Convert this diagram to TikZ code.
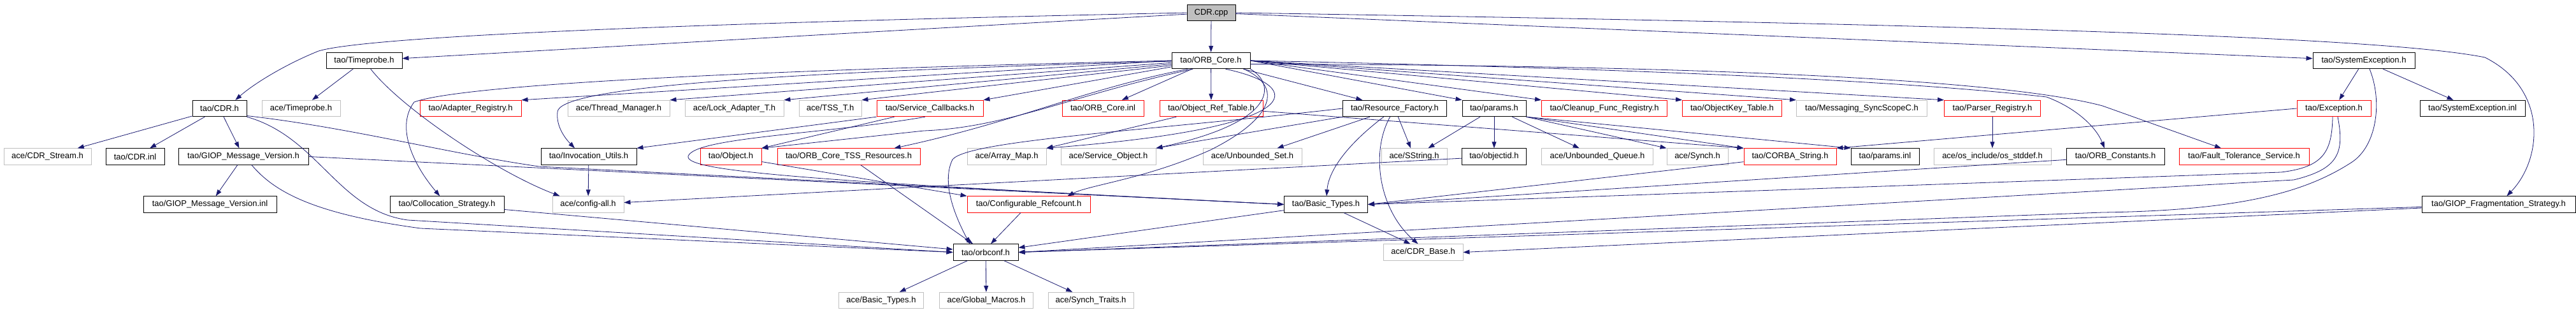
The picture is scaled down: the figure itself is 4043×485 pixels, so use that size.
\documentclass[tikz,border=0pt]{standalone}
\usepackage{fontspec}
\setmainfont{Liberation Sans}
\usetikzlibrary{arrows.meta}
\definecolor{edgeblue}{RGB}{25,25,112}
\definecolor{sysgray}{RGB}{191,191,191}
\tikzset{
  hdr/.style={draw=black, line width=0.9pt, inner sep=0pt, minimum height=25.5pt,
    font=\fontsize{13}{15}\selectfont},
  sysfile/.style={hdr, draw=sysgray},
  cutfile/.style={hdr, draw=red},
  rootfile/.style={hdr, fill=sysgray},
  link/.style={draw=edgeblue, line width=0.8pt, -{Triangle[length=10pt,width=7pt]}},
}
\begin{document}
\begin{tikzpicture}[x=1pt,y=-1pt]
      \useasboundingbox (0,0) rectangle (4043,485);
      \draw
        (1901,20) node[rootfile,minimum width=76pt] (cpp){CDR.cpp}
        (571.5,95) node[hdr,minimum width=119pt] (timeprobe){tao/Timeprobe.h}
        (1900.5,95) node[hdr,minimum width=123pt] (orbcore){tao/ORB\_Core.h}
        (3710,95) node[hdr,minimum width=160pt] (sysexc){tao/SystemException.h}
        (344.5,170) node[hdr,minimum width=85pt] (cdrh){tao/CDR.h}
        (472.5,170) node[sysfile,minimum width=123pt] (acetimeprobe){ace/Timeprobe.h}
        (738.5,170) node[cutfile,minimum width=159pt] (adapterreg){tao/Adapter\_Registry.h}
        (971,170) node[sysfile,minimum width=160pt] (threadmgr){ace/Thread\_Manager.h}
        (1152.5,170) node[sysfile,minimum width=155pt] (lockadapter){ace/Lock\_Adapter\_T.h}
        (1303,170) node[sysfile,minimum width=98pt] (tsst){ace/TSS\_T.h}
        (1459.5,170) node[cutfile,minimum width=167pt] (servicecb){tao/Service\_Callbacks.h}
        (1731,170) node[cutfile,minimum width=128pt] (orbcoreinl){tao/ORB\_Core.inl}
        (1901,170) node[cutfile,minimum width=162pt] (objreftable){tao/Object\_Ref\_Table.h}
        (2189,170) node[hdr,minimum width=163pt] (resfactory){tao/Resource\_Factory.h}
        (2345,170) node[hdr,minimum width=100pt] (params){tao/params.h}
        (2518,170) node[cutfile,minimum width=197pt] (cleanup){tao/Cleanup\_Func\_Registry.h}
        (2718.5,170) node[cutfile,minimum width=156pt] (objkeytable){tao/ObjectKey\_Table.h}
        (2922,170) node[sysfile,minimum width=205pt] (syncscope){tao/Messaging\_SyncScopeC.h}
        (3127,170) node[cutfile,minimum width=151pt] (parserreg){tao/Parser\_Registry.h}
        (3663,170) node[cutfile,minimum width=116pt] (exception){tao/Exception.h}
        (3880.5,170) node[hdr,minimum width=165pt] (sysexcinl){tao/SystemException.inl}
        (74.5,245.5) node[sysfile,minimum width=137pt] (cdrstream){ace/CDR\_Stream.h}
        (212,245.5) node[hdr,minimum width=92pt] (cdrinl){tao/CDR.inl}
        (382,245.5) node[hdr,minimum width=204pt] (giopver){tao/GIOP\_Message\_Version.h}
        (924,245.5) node[hdr,minimum width=150pt] (invocation){tao/Invocation\_Utils.h}
        (1147,245.5) node[cutfile,minimum width=96pt] (object){tao/Object.h}
        (1332,245.5) node[cutfile,minimum width=224pt] (tssres){tao/ORB\_Core\_TSS\_Resources.h}
        (1580,245.5) node[sysfile,minimum width=124pt] (arraymap){ace/Array\_Map.h}
        (1739.5,245.5) node[sysfile,minimum width=149pt] (serviceobj){ace/Service\_Object.h}
        (1965.5,245.5) node[sysfile,minimum width=155pt] (unboundedset){ace/Unbounded\_Set.h}
        (2219.5,245.5) node[sysfile,minimum width=103pt] (sstring){ace/SString.h}
        (2345,245.5) node[hdr,minimum width=101pt] (objectid){tao/objectid.h}
        (2507,245.5) node[sysfile,minimum width=175pt] (unboundedqueue){ace/Unbounded\_Queue.h}
        (2664,245.5) node[sysfile,minimum width=96pt] (synch){ace/Synch.h}
        (2809.5,245.5) node[cutfile,minimum width=145pt] (corbastring){tao/CORBA\_String.h}
        (2958.5,245.5) node[hdr,minimum width=107pt] (paramsinl){tao/params.inl}
        (3127,245.5) node[sysfile,minimum width=184pt] (osstddef){ace/os\_include/os\_stddef.h}
        (3320,245.5) node[hdr,minimum width=154pt] (orbconst){tao/ORB\_Constants.h}
        (3522,245.5) node[cutfile,minimum width=204pt] (faulttol){tao/Fault\_Tolerance\_Service.h}
        (329.5,320.5) node[hdr,minimum width=209pt] (giopverinl){tao/GIOP\_Message\_Version.inl}
        (701.5,320.5) node[hdr,minimum width=179pt] (collocation){tao/Collocation\_Strategy.h}
        (923,320.5) node[sysfile,minimum width=112pt] (configall){ace/config-all.h}
        (1614.5,320.5) node[cutfile,minimum width=193pt] (configref){tao/Configurable\_Refcount.h}
        (2081,320.5) node[hdr,minimum width=131pt] (basictypes){tao/Basic\_Types.h}
        (3921.5,320.5) node[hdr,minimum width=241pt] (giopfrag){tao/GIOP\_Fragmentation\_Strategy.h}
        (1547,395.5) node[hdr,minimum width=102pt] (orbconf){tao/orbconf.h}
        (2233.5,395.5) node[sysfile,minimum width=125pt] (cdrbase){ace/CDR\_Base.h}
        (1383,471) node[sysfile,minimum width=133pt] (acebasictypes){ace/Basic\_Types.h}
        (1548,471) node[sysfile,minimum width=147pt] (globalmacros){ace/Global\_Macros.h}
        (1712,471) node[sysfile,minimum width=134pt] (synchtraits){ace/Synch\_Traits.h};
      \begin{scope}[link]
        % CDR.cpp
        \draw (cpp) to (timeprobe);
        \draw (cpp.west) .. controls (900,40) and (560,62) .. (500,80)
          .. controls (450,100) and (400,130) .. ([xshift=-18pt]cdrh.north east);
        \draw (cpp) to (orbcore);
        \draw (cpp) to (sysexc);
        \draw (cpp.east) .. controls (3200,40) and (3750,60) .. (3900,90)
          .. controls (4000,140) and (3990,250) .. (giopfrag);
        % tao/Timeprobe.h
        \draw (timeprobe) to (acetimeprobe);
        \draw (timeprobe) .. controls (630,170) and (780,270) .. ([xshift=12pt]configall.north west);
        % tao/CDR.h
        \draw (cdrh) to (cdrstream);
        \draw (cdrh) to (cdrinl);
        \draw (cdrh) to (giopver);
        \draw (cdrh.south east) .. controls (500,215) and (530,330) .. (640,345) -- (orbconf.west);
        \draw (cdrh.-15) .. controls (550,200) and (700,240) .. (846,261) -- (basictypes.west);
        % tao/GIOP_Message_Version.h
        \draw (giopver) to (giopverinl);
        \draw ([xshift=13pt]giopver.south) .. controls (430,300) and (490,335) .. (660,358) -- (orbconf.west);
        \draw (giopver.east) to (basictypes.west);
        % tao/ORB_Core.h
        \draw (orbcore.west) .. controls (1100,112) and (720,135) .. (650,160)
          .. controls (620,200) and (650,260) .. (collocation);
        \draw (orbcore.west) to (adapterreg.north east);
        \draw (orbcore.183) to (threadmgr.north east);
        \draw (orbcore.185) to (lockadapter.north east);
        \draw (orbcore.187) to (tsst.north east);
        \draw (orbcore.189) to (servicecb.north east);
        \draw (orbcore.181) .. controls (1150,115) and (880,140) .. (875,175)
          .. controls (872,200) and (890,220) .. ([xshift=-22pt]invocation.north);
        \draw (orbcore) to (orbcoreinl);
        \draw (orbcore) to (objreftable);
        \draw (orbcore) to (resfactory);
        \draw (orbcore.east) to (params.north west);
        \draw (orbcore.east) to (cleanup.north west);
        \draw (orbcore.east) to (objkeytable.north west);
        \draw (orbcore.east) to (syncscope.north west);
        \draw (orbcore.east) to (parserreg.north west);
        \draw (orbcore.east) .. controls (2600,108) and (3000,128) .. (3212,152)
          .. controls (3260,170) and (3290,200) .. ([xshift=-17pt]orbconst.north);
        \draw (orbcore.-5) .. controls (2700,102) and (3150,126) .. (3300,166) -- ([xshift=-36pt]faulttol.north);
        \draw (orbcore.200) .. controls (1700,140) and (1600,190) .. ([xshift=-41pt]tssres.north east);
        \draw (orbcore.205) .. controls (1680,150) and (1580,200) .. (1450,205) -- (object.north east);
        \draw (orbcore.south east) .. controls (2000,130) and (2010,190) .. (serviceobj.north east);
        \draw (orbcore.-30) .. controls (2050,135) and (2060,200) .. (arraymap.north east);
        \draw ([xshift=-10pt]orbcore.south east) .. controls (2020,140) and (1990,190) .. (1900,235)
          .. controls (1800,280) and (1710,290) .. ([xshift=-36pt]configref.north east);
        % tao/Service_Callbacks.h
        \draw (servicecb.south west) to (invocation.north east);
        \draw (servicecb) to (object.north east);
        \draw (servicecb.-120) .. controls (1300,210) and (1090,215) .. (1080,245)
          .. controls (1075,270) and (1300,285) .. (basictypes.west);
        % tao/Object.h
        \draw (object) to (configref.north west);
        % tao/Object_Ref_Table.h
        \draw (objreftable) to (arraymap.north east);
        \draw (objreftable.-3) to (corbastring.north west);
        % tao/Resource_Factory.h
        \draw (resfactory) to (unboundedset);
        \draw (resfactory) to (sstring);
        \draw (resfactory.south west) to (serviceobj.north east);
        \draw (resfactory) .. controls (2110,230) and (2085,270) .. (basictypes);
        \draw (resfactory) .. controls (2150,240) and (2165,330) .. ([xshift=-8pt]cdrbase.north);
        \draw (resfactory.west) .. controls (1800,205) and (1520,220) .. (1495,250)
          .. controls (1475,290) and (1505,350) .. ([xshift=-25pt]orbconf.north);
        % tao/params.h
        \draw (params) to (sstring);
        \draw (params) to (objectid);
        \draw (params) to (unboundedqueue);
        \draw (params.south east) to (synch.north west);
        \draw (params.south east) to (corbastring.north west);
        \draw (params.south east) to (paramsinl.north west);
        % lower levels
        \draw (objectid) to (configall);
        \draw (invocation) to (configall);
        \draw (collocation) to (orbconf);
        \draw (tssres) to ([xshift=-20pt]orbconf.north);
        \draw (configref) to ([xshift=8pt]orbconf.north);
        \draw (basictypes) to (orbconf);
        \draw (basictypes) to ([xshift=-20pt]cdrbase.north);
        \draw (orbconf) to (acebasictypes);
        \draw (orbconf) to (globalmacros);
        \draw (orbconf) to (synchtraits);
        % right side
        \draw (parserreg) to (osstddef);
        \draw (sysexc) to (exception);
        \draw (sysexc) to (sysexcinl);
        \draw ([xshift=9pt]sysexc.south) .. controls (3740,160) and (3730,230) .. (3690,255)
          .. controls (3620,300) and (3520,330) .. (3300,333) -- (orbconf.east);
        \draw (exception.west) to (corbastring.north east);
        \draw ([xshift=-2pt]exception.south) .. controls (3660,240) and (3645,262) .. (3580,270) -- (basictypes.east);
        \draw ([xshift=6pt]exception.south) .. controls (3680,240) and (3670,265) .. (3600,282) -- (orbconf.east);
        \draw (corbastring) to (basictypes.east);
        \draw (orbconst) to (basictypes.east);
        \draw (giopfrag) to (orbconf.east);
        \draw (giopfrag) to (cdrbase.east);
      \end{scope}
    \end{tikzpicture}
\end{document}
